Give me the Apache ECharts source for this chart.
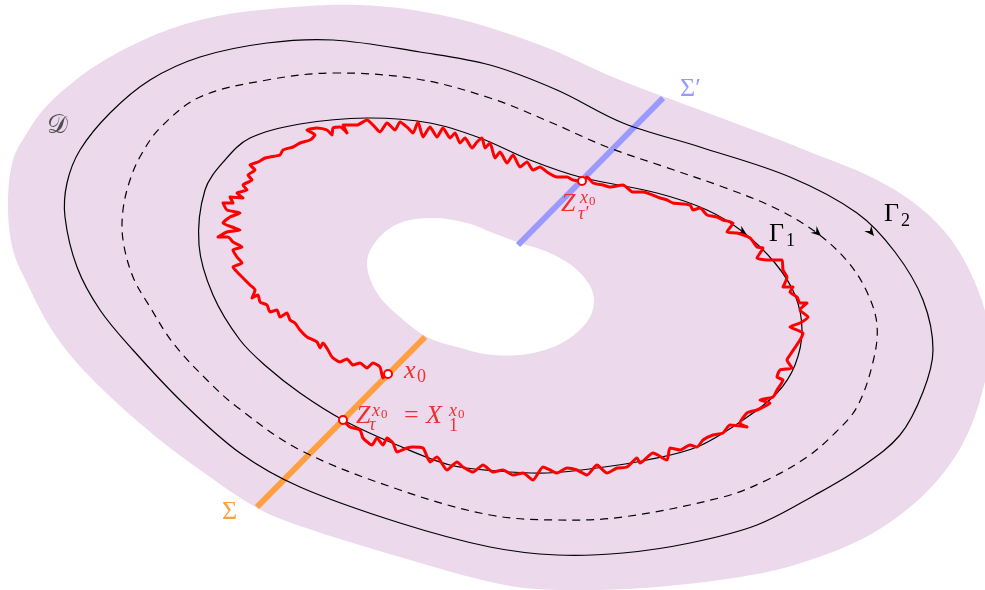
<!DOCTYPE html>
<html><head><meta charset="utf-8">
<script src="https://cdn.jsdelivr.net/npm/echarts@6/dist/echarts.min.js"></script>
<style>html,body{margin:0;padding:0;background:#fff}#c{width:985px;height:590px}</style>
</head><body><div id="c"></div>
<script>
// ---- data (in the figure's own coordinate units) ----
const domainOuter = [[8,205],[13,160],[27,133],[43,110],[67,87],[100,63],[150,37],[200,20],[260,10],[360,5],[450,17],[540,45],[620,80],[700,110],[800,148],[890,187],[945,232],[978,290],[990,345],[980,400],[962,445],[935,483],[900,515],[860,540],[810,560],[757,574],[657,587],[560,590],[500,584],[400,557],[300,526],[257,508],[200,470],[160,440],[117,403],[77,363],[50,327],[27,283],[13,250]];
const domainHole = [[367,263],[377,240],[400,223],[433,218],[467,223],[493,233],[520,243],[550,253],[577,270],[593,293],[590,317],[567,340],[533,353],[493,355],[457,347],[427,337],[400,317],[377,293]];
const gamma2 = [[333,40],[420,52],[490,65],[557,90],[623,123],[700,147],[790,177],[857,213],[895,252],[923,300],[933,350],[923,392],[900,435],[860,468],[815,495],[757,525],[690,543],[623,553],[557,555],[490,547],[400,523],[300,487],[240,453],[183,403],[133,350],[100,310],[77,267],[65,217],[67,183],[80,150],[110,113],[150,80],[200,57],[267,43]];
const gammaMid = [[333,73],[417,79],[490,98],[550,122],[607,147],[665,167],[723,187],[775,208],[817,233],[848,262],[867,292],[877,325],[873,362],[857,407],[835,433],[807,457],[767,480],[723,497],[623,517],[557,520],[490,515],[400,490],[300,450],[237,407],[207,380],[173,343],[150,307],[133,277],[123,240],[123,210],[130,180],[141,155],[160,128],[200,97],[267,80]];
const gamma1 = [[367,118],[430,123],[480,138],[530,160],[580,177],[657,193],[707,210],[743,232],[775,263],[795,295],[802,330],[795,365],[777,393],[743,420],[697,447],[647,460],[597,468],[547,473],[497,471],[450,465],[397,445],[343,420],[300,393],[267,367],[240,340],[213,295],[199,245],[205,190],[225,160],[250,138],[300,124]];
const redPath = [[388,374],[383,378],[380,367],[373,363],[367,368],[360,363],[353,365],[347,359],[340,362],[332,357],[328,350],[323,343],[320,348],[317,342],[307,337],[300,330],[295,323],[290,320],[287,313],[280,317],[277,310],[270,312],[267,305],[260,302],[258,295],[252,298],[255,290],[250,285],[243,278],[238,273],[233,267],[242,263],[237,257],[233,250],[242,247],[233,242],[228,237],[218,237],[227,232],[240,230],[232,227],[223,223],[230,217],[240,213],[227,210],[223,203],[233,203],[230,197],[243,198],[237,193],[247,190],[243,185],[252,180],[248,175],[255,170],[250,165],[258,162],[265,158],[270,157],[280,155],[283,150],[293,147],[300,143],[310,140],[315,135],[307,130],[317,128],[327,130],[332,135],[333,128],[340,127],[347,133],[343,125],[357,125],[367,120],[373,125],[380,132],[387,123],[395,130],[400,122],[408,128],[413,133],[418,122],[423,137],[430,127],[437,137],[443,128],[450,138],[455,133],[460,143],[465,138],[472,148],[477,142],[482,138],[485,148],[490,143],[495,158],[500,152],[507,163],[513,155],[520,167],[527,162],[533,170],[540,167],[547,172],[557,177],[567,177],[573,180],[582,181],[587,177],[593,183],[603,185],[610,187],[623,185],[633,192],[643,192],[660,198],[667,200],[673,203],[690,205],[693,210],[700,208],[707,215],[717,217],[723,220],[733,223],[727,232],[737,233],[750,238],[757,247],[763,248],[757,258],[770,260],[782,260],[783,270],[787,277],[783,287],[793,287],[790,292],[797,297],[800,303],[807,303],[800,310],[808,317],[800,323],[790,327],[797,330],[803,333],[800,340],[790,355],[787,360],[792,368],[780,370],[777,377],[783,380],[777,390],[773,397],[760,400],[770,403],[757,410],[747,413],[740,423],[747,427],[730,425],[723,433],[713,435],[703,440],[697,447],[690,445],[680,450],[670,448],[667,460],[653,453],[640,463],[637,458],[627,467],[617,468],[607,473],[597,465],[587,475],[577,470],[567,468],[557,473],[550,470],[543,467],[533,480],[523,473],[513,475],[503,470],[493,472],[483,465],[473,472],[463,467],[457,462],[447,470],[437,457],[430,462],[423,448],[413,447],[407,448],[397,452],[393,443],[387,438],[383,445],[377,438],[372,445],[363,438],[360,430],[350,427],[343,420]];
const sigma = [[257,507],[425,337]];
const sigmaPrime = [[518,245],[663,98]];
const markedPoints = [[388,374],[343,420],[582,181]];
const arrowTips = [[747,235],[821,236],[874,236]];
const arrowTails = [[735,227],[811,227],[866,226]];
const labelTexts = ['𝒟','Σ′','Σ','Γ1','Γ2','x0','Zτx0=X1x0','Zτ′x0'];

// ---- styling / layout ----
const PURPLE = '#ecd9ec', BLUE = '#9999ff', ORANGE = '#ff9f40', RED = '#ff0000', TXTRED = '#f03030';
const SERIF = '"Liberation Serif","DejaVu Serif",serif';
// label anchors (baseline-left) and glyph pieces [text, dx, dy, size, italic]
const labelLayout = [
  {x:47, y:135, c:'#4d4d4d', p:[['𝒟',0,0,26,0]]},
  {x:680, y:98, c:BLUE, p:[['Σ′',0,0,26,0]]},
  {x:222, y:521, c:ORANGE, p:[['Σ',0,0,26,0]]},
  {x:769, y:243, c:'#000', p:[['Γ',0,0,26,0],['1',17,4,18,0]]},
  {x:884, y:223, c:'#000', p:[['Γ',0,0,26,0],['2',17,4,18,0]]},
  {x:404, y:380, c:TXTRED, p:[['x',0,0,26,1],['0',13,3,18,0]]},
  {x:356, y:425, c:TXTRED, p:[['Z',0,0,26,1],['x',16,-8,18,1],['0',25,-6,13,0],['τ',13,6,18,1],['=',48,0,26,0],['X',70,0,26,1],['x',93,-8,18,1],['0',102,-6,13,0],['1',93,7,18,0]]},
  {x:561, y:213, c:TXTRED, p:[['Z',0,0,26,1],['x',19,-9,18,1],['0',28,-7,13,0],['τ′',17,7,18,1]]}
];
const SMOOTH = 0.35;

function closedShape(name, pts, style, z) {
  return {
    type: 'custom', name: name, coordinateSystem: 'cartesian2d', z: z, silent: true,
    data: pts, encode: {x: 0, y: 1},
    renderItem: function (params, api) {
      if (params.dataIndex !== 0) return null;
      const points = pts.map(function (p) { return api.coord(p); });
      return {type: 'polygon', shape: {points: points, smooth: SMOOTH}, style: style};
    }
  };
}

const chart = echarts.init(document.getElementById('c'), null, {renderer: 'canvas'});
chart.setOption({
  animation: false,
  backgroundColor: '#fff',
  grid: {left: 0, right: 0, top: 0, bottom: 0},
  xAxis: {type: 'value', min: 0, max: 985, show: false},
  yAxis: {type: 'value', min: 0, max: 590, inverse: true, show: false},
  series: [
    closedShape('D', domainOuter, {fill: PURPLE, stroke: 'none'}, 1),
    closedShape('hole', domainHole, {fill: '#fff', stroke: 'none'}, 2),
    {type: 'line', name: 'Σ', data: sigma, z: 3, silent: true, showSymbol: false,
     lineStyle: {color: ORANGE, width: 6, cap: 'butt'}},
    {type: 'line', name: 'Σ′', data: sigmaPrime, z: 3, silent: true, showSymbol: false,
     lineStyle: {color: BLUE, width: 6, cap: 'butt'}},
    closedShape('Γ2', gamma2, {fill: 'none', stroke: '#000', lineWidth: 1.2}, 4),
    closedShape('mid', gammaMid, {fill: 'none', stroke: '#000', lineWidth: 1.2, lineDash: [8, 6]}, 4),
    closedShape('Γ1', gamma1, {fill: 'none', stroke: '#000', lineWidth: 1.2}, 4),
    {type: 'custom', name: 'arrows', coordinateSystem: 'cartesian2d', z: 5, silent: true,
     data: arrowTips, encode: {x: 0, y: 1},
     renderItem: function (params, api) {
       const t = api.coord(arrowTips[params.dataIndex]);
       const b = api.coord(arrowTails[params.dataIndex]);
       let ux = t[0] - b[0], uy = t[1] - b[1];
       const L = Math.sqrt(ux * ux + uy * uy); ux /= L; uy /= L;
       const nx = -uy, ny = ux;
       const pts = [t, [t[0] - 10 * ux + 4.5 * nx, t[1] - 10 * uy + 4.5 * ny],
                    [t[0] - 6.5 * ux, t[1] - 6.5 * uy],
                    [t[0] - 10 * ux - 4.5 * nx, t[1] - 10 * uy - 4.5 * ny]];
       return {type: 'polygon', shape: {points: pts}, style: {fill: '#000', stroke: 'none'}};
     }},
    {type: 'line', name: 'path', data: redPath, z: 6, silent: true, showSymbol: false, smooth: 0.2,
     lineStyle: {color: RED, width: 3, join: 'round', cap: 'round'}},
    {type: 'scatter', name: 'points', data: markedPoints, z: 7, silent: true, symbol: 'circle', symbolSize: 8,
     itemStyle: {color: '#fff', borderColor: RED, borderWidth: 2, opacity: 1}},
    {type: 'custom', name: 'labels', coordinateSystem: 'cartesian2d', z: 8, silent: true,
     data: labelLayout.map(function (l) { return [l.x, l.y]; }), encode: {x: 0, y: 1},
     renderItem: function (params, api) {
       const l = labelLayout[params.dataIndex];
       const a = api.coord([l.x, l.y]);
       return {type: 'group', children: l.p.map(function (q) {
         const fs = q[3];
         return {type: 'text', x: a[0] + q[1], y: a[1] + q[2] - 0.34 * fs,
           style: {text: q[0], fill: l.c, font: (q[4] ? 'italic ' : '') + fs + 'px ' + SERIF,
                   align: 'left', verticalAlign: 'middle', textAlign: 'left', textVerticalAlign: 'middle'}};
       })};
     }}
  ]
});
</script></body></html>
